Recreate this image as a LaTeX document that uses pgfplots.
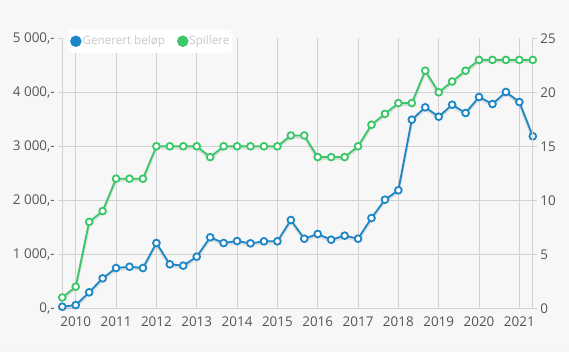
\documentclass[border=0pt]{standalone}
\usepackage{pgfplots}
\pgfplotsset{compat=1.18}
\usepackage{fontspec}
\setmainfont{Open Sans}
\definecolor{cblue}{RGB}{28,134,199}
\definecolor{cgreen}{RGB}{59,199,104}
\definecolor{bg}{RGB}{247,247,247}
\definecolor{gridc}{RGB}{210,210,210}
\definecolor{txt}{RGB}{85,85,85}
\definecolor{legtxt}{RGB}{200,200,200}
\pgfplotsset{
  common/.style={
    at={(62.3bp,43.7bp)}, anchor=south west,
    scale only axis, width=470.5bp, height=270bp,
    xmin=0, xmax=35,
    axis line style={gridc, line width=0.8bp},
    tick style={gridc, line width=0.8bp},
    major tick length=4bp,
    tick align=outside,
    ticklabel style={font=\fontsize{13.5}{14}\selectfont, text=txt},
    /pgf/number format/assume math mode=true,
    clip=false,
  },
  ser/.style={color=#1, line width=1.8bp, mark=*, mark size=3.4bp,
    mark options={line width=1.8bp, fill=white, draw=#1, solid}},
  shad/.style={draw=black, draw opacity=0.10, line width=3bp, no markers, yshift=-1.5bp, forget plot},
}
\begin{document}
\begin{tikzpicture}[x=1bp,y=1bp]
\fill[bg] (0,0) rectangle (569,352);
\fill[black!3.5] (0,0) rectangle (569,8);
\begin{axis}[common,
  ymin=0, ymax=5000,
  axis x line*=bottom, axis y line*=left,
  xtick={1,4,...,34},
  xticklabels={2010,2011,2012,2013,2014,2015,2016,2017,2018,2019,2020,2021},
  x tick style={draw=none},
  xmajorgrids, ymajorgrids,
  grid style={gridc, line width=0.8bp},
  ytick={0,1000,2000,3000,4000},
  yticklabels={{0,-},{1 000,-},{2 000,-},{3 000,-},{4 000,-}},
  extra y ticks={5000}, extra y tick labels={5 000{,}-},
  extra y tick style={grid=none},
  xticklabel style={yshift=-1bp},
]
\addplot[shad] coordinates {(0,30)(1,60)(2,296)(3,555)(4,746)(5,770)(6,746)(7,1209)(8,815)(9,790)(10,956)(11,1315)(12,1209)(13,1246)(14,1203)(15,1240)(16,1240)(17,1635)(18,1289)(19,1376)(20,1270)(21,1345)(22,1289)(23,1672)(24,2011)(25,2185)(26,3493)(27,3722)(28,3548)(29,3770)(30,3617)(31,3913)(32,3783)(33,4006)(34,3820)(35,3185)};
\addplot[ser=cblue] coordinates {(0,30)(1,60)(2,296)(3,555)(4,746)(5,770)(6,746)(7,1209)(8,815)(9,790)(10,956)(11,1315)(12,1209)(13,1246)(14,1203)(15,1240)(16,1240)(17,1635)(18,1289)(19,1376)(20,1270)(21,1345)(22,1289)(23,1672)(24,2011)(25,2185)(26,3493)(27,3722)(28,3548)(29,3770)(30,3617)(31,3913)(32,3783)(33,4006)(34,3820)(35,3185)};
\end{axis}
\begin{axis}[common,
  ymin=0, ymax=25,
  axis y line*=right, axis x line=none,
  ytick={0,5,10,15,20,25},
  legend columns=2,
  legend style={at={(0.012,1.033)}, anchor=north west, draw=none, fill=white,
    rounded corners=4bp, font=\fontsize{11.7}{13}\selectfont, text=legtxt,
    inner xsep=2bp, inner ysep=4.5bp, column sep=0bp,
    nodes={inner xsep=1bp},
    /tikz/every odd column/.append style={column sep=0bp},
    /tikz/every even column/.append style={column sep=11bp}},
  legend cell align=left,
]
\addlegendimage{legend image code/.code={\fill[cblue] (0bp,0bp) circle (5.5bp);}}
\addlegendentry{Generert beløp}
\addlegendimage{legend image code/.code={\fill[cgreen] (0bp,0bp) circle (5.5bp);}}
\addlegendentry{Spillere}
\addplot[shad] coordinates {(0,1)(1,2)(2,8)(3,9)(4,12)(5,12)(6,12)(7,15)(8,15)(9,15)(10,15)(11,14)(12,15)(13,15)(14,15)(15,15)(16,15)(17,16)(18,16)(19,14)(20,14)(21,14)(22,15)(23,17)(24,18)(25,19)(26,19)(27,22)(28,20)(29,21)(30,22)(31,23)(32,23)(33,23)(34,23)(35,23)};
\addplot[ser=cgreen, forget plot] coordinates {(0,1)(1,2)(2,8)(3,9)(4,12)(5,12)(6,12)(7,15)(8,15)(9,15)(10,15)(11,14)(12,15)(13,15)(14,15)(15,15)(16,15)(17,16)(18,16)(19,14)(20,14)(21,14)(22,15)(23,17)(24,18)(25,19)(26,19)(27,22)(28,20)(29,21)(30,22)(31,23)(32,23)(33,23)(34,23)(35,23)};
\end{axis}
\end{tikzpicture}
\end{document}
